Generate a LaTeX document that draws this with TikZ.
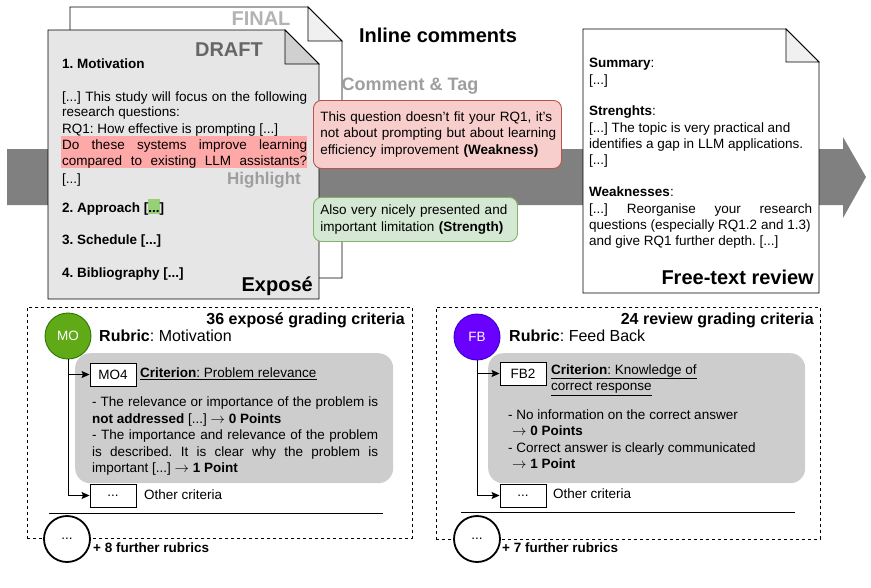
\documentclass[tikz,border=0pt]{standalone}
\usepackage{fontspec}
\setmainfont{Liberation Sans}
\usetikzlibrary{arrows.meta}
\definecolor{bandgray}{HTML}{808080}
\definecolor{draftfill}{HTML}{E6E6E6}
\definecolor{draftfold}{HTML}{D0D0D0}
\definecolor{lightfold}{HTML}{F0F0F0}
\definecolor{pinkhl}{HTML}{FFA8A8}
\definecolor{greenhl}{HTML}{97D077}
\definecolor{redfill}{HTML}{F8CECC}
\definecolor{redline}{HTML}{B85450}
\definecolor{greenfill}{HTML}{D5E8D4}
\definecolor{greenline}{HTML}{82B366}
\definecolor{critgray}{HTML}{CDCDCD}
\definecolor{mofill}{HTML}{60A917}
\definecolor{moline}{HTML}{2D7600}
\definecolor{fbfill}{HTML}{6A00FF}
\definecolor{fbline}{HTML}{3700CC}
\definecolor{draftlbl}{HTML}{666666}
\definecolor{finallbl}{HTML}{B3B3B3}
\definecolor{taglbl}{HTML}{9E9E9E}
\newcommand\fsn{\fontsize{13.5}{16.5}\selectfont}
\newcommand\fsbig{\fontsize{20}{24}\selectfont\bfseries}
\newcommand\fsmid{\fontsize{16}{19}\selectfont}
\newcommand\arr{$\rightarrow$}
\frenchspacing
\begin{document}
\begin{tikzpicture}[x=1pt,y=-1pt,
  txt/.style={inner sep=0pt, anchor=base west, font=\fsn},
  biglbl/.style={inner sep=0pt, font=\fsbig},
  doc/.style={draw=black, line width=0.9pt},
  cbox/.style={rounded corners=8pt, line width=0.9pt, inner xsep=4pt, inner ysep=7pt, align=left, font=\fsn, anchor=north west},
  critbox/.style={fill=critgray, rounded corners=15pt, inner sep=0pt, anchor=north west},
  idbox/.style={draw=black, fill=white, line width=0.9pt, minimum width=46pt, minimum height=23pt, inner sep=0pt, font=\fsn},
  rubcirc/.style={circle, line width=0.9pt, minimum size=46pt, inner sep=0pt, text=white, font=\fsn},
  morecirc/.style={circle, draw=black, fill=white, line width=1.8pt, minimum size=46pt, inner sep=0pt, font=\fsn},
  panel/.style={draw=black, line width=0.9pt, dash pattern=on 3pt off 3pt, inner sep=0pt, anchor=north west},
  conn/.style={draw=black, line width=0.9pt, -{Stealth[length=8pt,width=7pt,inset=1.5pt]}},
  sep/.style={draw=black, line width=0.9pt}]
\useasboundingbox (0,0) rectangle (871,587);

% FINAL document (behind)
\filldraw[doc, fill=white] (70,7) -- (308,7) -- (342,41) -- (342,278) -- (70,278) -- cycle;
\filldraw[doc, fill=lightfold] (308,7) -- (308,41) -- (342,41) -- cycle;
\node[biglbl, text=finallbl] (finallabel) at (261,19) {FINAL};

% big process arrow
\fill[bandgray] (7,149) -- (843,149) -- (843,137) -- (866,177) -- (843,218) -- (843,205) -- (7,205) -- cycle;

% DRAFT document
\filldraw[doc, fill=draftfill] (48,30) -- (285,30) -- (319,64) -- (319,299) -- (48,299) -- cycle;
\filldraw[doc, fill=draftfold] (285,30) -- (285,64) -- (319,64) -- cycle;
\node[biglbl, text=draftlbl] (draftlabel) at (229,50) {DRAFT};

\fill[pinkhl] (61,136) rectangle (307,168);
\fill[greenhl] (148,199) rectangle (160,214);

\node[txt] (d1) at (62,68) {\textbf{1. Motivation}};
\node[txt] (d2) at (62,101) {\makebox[245pt][s]{[...] This study will focus on the following}};
\node[txt] (d3) at (62,116) {research questions:};
\node[txt] (d4) at (62,133) {RQ1: How effective is prompting [...]};
\node[txt] (d5) at (62,149) {\makebox[245pt][s]{Do these systems improve learning}};
\node[txt] (d6) at (62,165) {\makebox[245pt][s]{compared to existing LLM assistants?}};
\node[txt] (d7) at (62,183) {[...]};
\node[txt] (d8) at (62,212) {\textbf{2. Approach [...]}};
\node[txt] (d9) at (62,244) {\textbf{3. Schedule [...]}};
\node[txt] (d10) at (62,277) {\textbf{4. Bibliography [...]}};
\node[biglbl, anchor=east] (expose) at (313,286) {Exposé};
\node[inner sep=0pt, font=\fontsize{17}{20}\selectfont\bfseries, text=taglbl] (hl) at (264,180) {Highlight};

% Review document
\filldraw[doc, fill=white] (583,29) -- (786,29) -- (819,62) -- (819,293) -- (583,293) -- cycle;
\filldraw[doc, fill=lightfold] (786,29) -- (786,62) -- (819,62) -- cycle;
\node[txt] (r1) at (589,67) {\textbf{Summary}:};
\node[txt] (r2) at (589,84) {[...]};
\node[txt] (r3) at (589,115) {\textbf{Strenghts}:};
\node[txt] (r4) at (589,132) {[...] The topic is very practical and};
\node[txt] (r5) at (589,148) {identifies a gap in LLM applications.};
\node[txt] (r6) at (589,164) {[...]};
\node[txt] (r7) at (589,196) {\textbf{Weaknesses}:};
\node[txt] (r8) at (589,213) {\makebox[223pt][s]{[...] Reorganise your research}};
\node[txt] (r9) at (589,229) {questions (especially RQ1.2 and 1.3)};
\node[txt] (r10) at (589,245) {and give RQ1 further depth. [...]};
\node[biglbl, anchor=east] (freetext) at (814,277) {Free-text review};

% Inline comments
\node[biglbl] (inline) at (438,35) {Inline comments};
\node[inner sep=0pt, font=\fontsize{18}{21}\selectfont\bfseries, text=taglbl] (ctag) at (410,86) {Comment \& Tag};
\node[cbox, draw=redline, fill=redfill, minimum width=248pt, minimum height=68pt, text width=240pt] (weak) at (313,100)
  {\hspace*{3pt}This question doesn't fit your RQ1, it's\\\hspace*{3pt}not about prompting but about learning\\\hspace*{3pt}efficiency improvement \textbf{(Weakness)}};
\node[cbox, draw=greenline, fill=greenfill, minimum width=204pt, minimum height=44pt, text width=196pt] (strong) at (313,197)
  {\hspace*{3pt}Also very nicely presented and\\\hspace*{3pt}important limitation \textbf{(Strength)}};

% ---------- Left panel: exposé rubric ----------
\node[panel, minimum width=385pt, minimum height=231pt] (panelL) at (27,307) {};
\node[critbox, minimum width=318pt, minimum height=130pt] (critL) at (75,353) {};
\node[rubcirc, draw=moline, fill=mofill] (mo) at (68,336) {MO};
\node[inner sep=0pt, anchor=west, font=\fsmid] (rubL) at (99,336) {\textbf{Rubric}: Motivation};
\node[inner sep=0pt, anchor=east, font=\fsmid\bfseries] (critcountL) at (405,320) {36 exposé grading criteria};
\node[idbox] (mo4) at (113,374.5) {MO4};
\node[txt, anchor=west] (critnameL) at (140,374) {\underline{\textbf{Criterion}: Problem relevance}};
\node[txt] (l1) at (92,406.5) {\makebox[286pt][s]{- The relevance or importance of the problem is}};
\node[txt] (l2) at (92,423) {\textbf{not addressed} [...] \arr{} \textbf{0 Points}};
\node[txt] (l3) at (92,439.5) {\makebox[286pt][s]{- The importance and relevance of the problem}};
\node[txt] (l4) at (92,456) {\makebox[286pt][s]{is described. It is clear why the problem is}};
\node[txt] (l5) at (92,472.5) {important [...] \arr{} \textbf{1 Point}};
\node[idbox] (othL) at (113,495.5) {...};
\node[txt, anchor=west] (othtxtL) at (144,495) {Other criteria};
\draw[conn] (mo.south) |- (mo4.west);
\draw[conn] (mo.south) |- (othL.west);
\coordinate (sepLa) at (49,513);
\coordinate (sepLb) at (383,513);
\draw[sep] (sepLa) -- (sepLb);
\node[morecirc] (moreL) at (67,539) {...};
\node[txt, anchor=west, font=\fsn\bfseries] (moretxtL) at (93,548) {+ 8 further rubrics};

% ---------- Right panel: review rubric ----------
\node[panel, minimum width=384pt, minimum height=232pt] (panelR) at (436,307) {};
\node[critbox, minimum width=317pt, minimum height=130pt] (critR) at (488,353) {};
\node[rubcirc, draw=fbline, fill=fbfill] (fb) at (477,337) {FB};
\node[inner sep=0pt, anchor=west, font=\fsmid] (rubR) at (509,336) {\textbf{Rubric}: Feed Back};
\node[inner sep=0pt, anchor=east, font=\fsmid\bfseries] (critcountR) at (814,320) {24 review grading criteria};
\node[idbox] (fb2) at (523,373.5) {FB2};
\node[txt, anchor=west] (critnameR1) at (551,372) {\underline{\textbf{Criterion}: Knowledge of}};
\node[txt, anchor=west] (critnameR2) at (551,389) {\underline{correct response}};
\node[txt] (f1) at (508,419) {- No information on the correct answer};
\node[txt] (f2) at (512,435) {\arr{} \textbf{0 Points}};
\node[txt] (f3) at (508,452) {- Correct answer is clearly communicated};
\node[txt] (f4) at (512,468) {\arr{} \textbf{1 Point}};
\node[idbox] (othR) at (523,495.5) {...};
\node[txt, anchor=west] (othtxtR) at (553,494) {Other criteria};
\draw[conn] (fb.south) |- (fb2.west);
\draw[conn] (fb.south) |- (othR.west);
\coordinate (sepRa) at (461,512);
\coordinate (sepRb) at (795,512);
\draw[sep] (sepRa) -- (sepRb);
\node[morecirc] (moreR) at (477,539) {...};
\node[txt, anchor=west, font=\fsn\bfseries] (moretxtR) at (502,548) {+ 7 further rubrics};
\end{tikzpicture}
\end{document}
